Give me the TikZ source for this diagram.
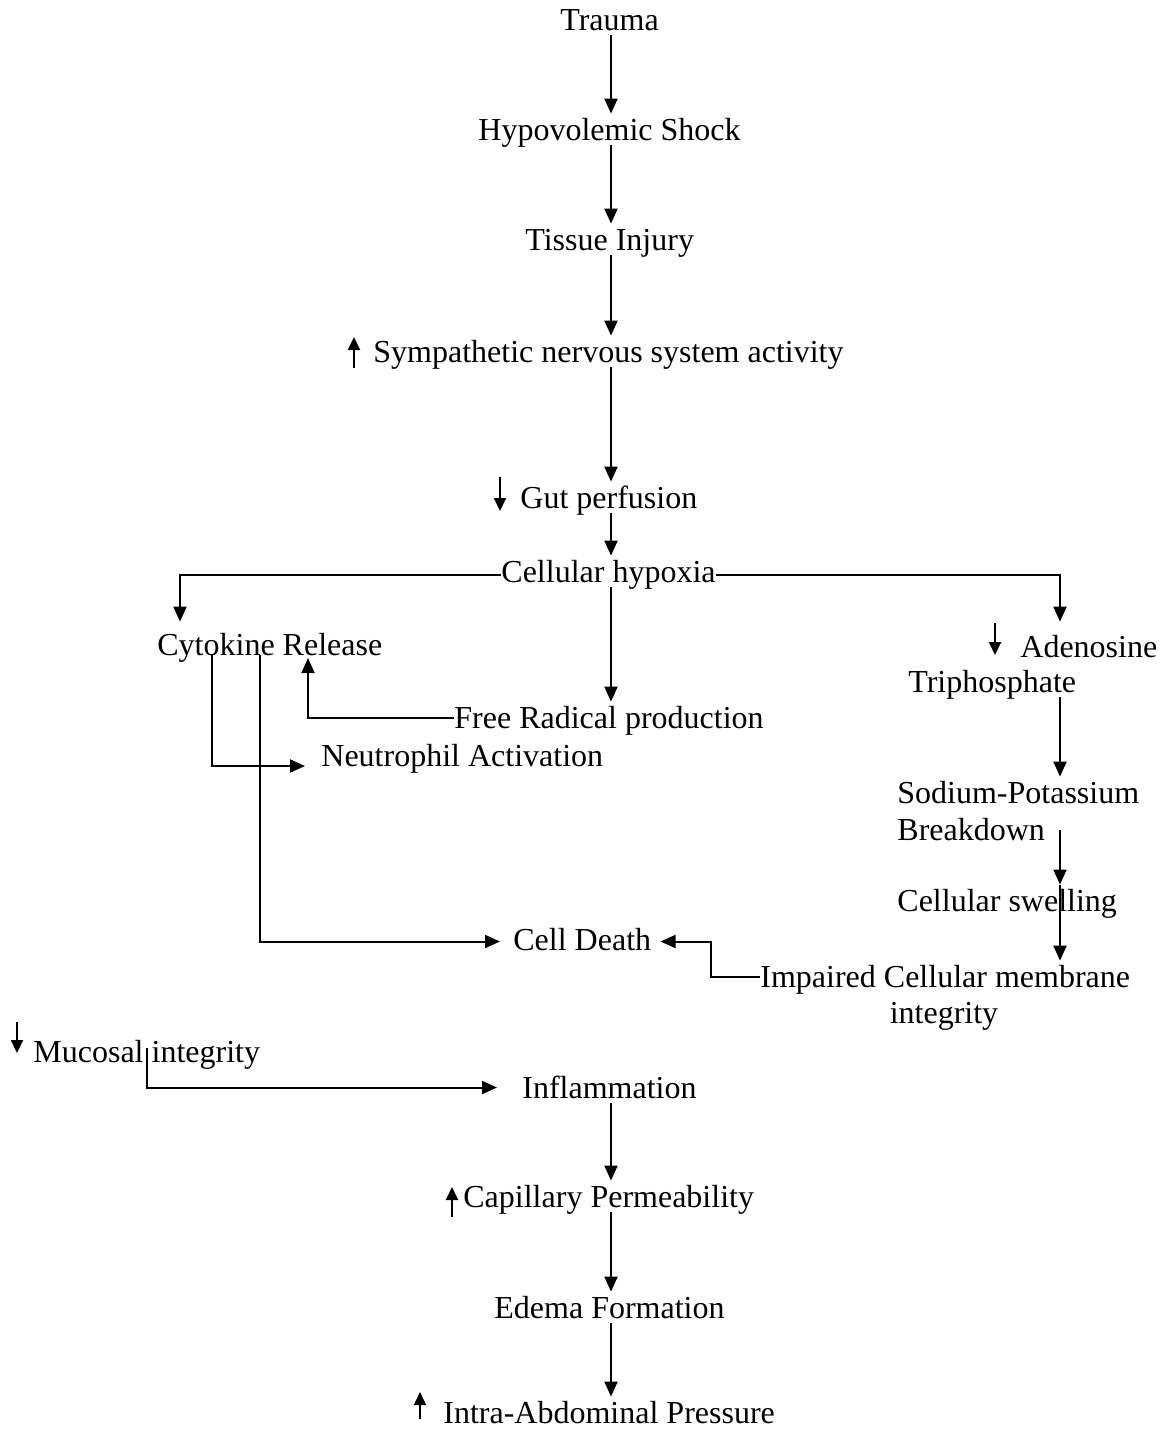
\documentclass[tikz,border=0pt]{standalone}
\usepackage{fontspec}
\setmainfont{Liberation Serif}
\usetikzlibrary{arrows.meta,calc}

\begin{document}
\begin{tikzpicture}[x=0.5pt,y=-0.5pt]
        \useasboundingbox (0,0) rectangle (1166,1435);
        \coordinate (spine) at (611,0);
        \coordinate (rspine) at (1060,0);
        \begin{scope}[every node/.style={inner sep=0pt,anchor=base west,text height=13pt,text depth=2.5pt,font=\fontsize{16pt}{19pt}\selectfont}]
            % main column
            \node (trauma) at (560,30) {Trauma};
            \node (shock) at (478,140) {Hypovolemic Shock};
            \node (injury) at (525,250) {Tissue Injury};
            \node (sns) at (373,362) {Sympathetic nervous system activity};
            \node (gut) at (520,508) {Gut perfusion};
            \node (hypoxia) at (501,582) {Cellular hypoxia};
            \node (radical) at (454,728) {Free Radical production};
            \node (cyto) at (157,655) {Cytokine Release};
            \node (neut) at (321,766) {Neutrophil Activation};
            \node (death) at (513,950) {Cell Death};
            \node (mucosal) at (33,1062) {Mucosal integrity};
            \node (inflam) at (522,1098) {Inflammation};
            \node (capillary) at (463,1207) {Capillary Permeability};
            \node (edema) at (494,1318) {Edema Formation};
            \node (iap) at (443,1423) {Intra-Abdominal Pressure};
            % right column
            \node (atp) at (1020,657) {Adenosine};
            \node (atp-2) at (908,692) {Triphosphate};
            \node (sodium) at (897,803) {Sodium-Potassium};
            \node (sodium-2) at (897,840) {Breakdown};
            \node (swelling) at (897,911) {Cellular swelling};
            \node (membrane) at (760,987) {Impaired Cellular membrane};
            \node (membrane-2) [anchor=base] at (944,1023) {integrity};
        \end{scope}
        \begin{scope}[every edge/.style={draw,line width=1pt,-{Triangle[length=7.5pt,width=6.5pt]}}]
            \path
                (trauma.south -| spine) edge (shock.north -| spine)
                (shock.south -| spine) edge (injury.north -| spine)
                (injury.south -| spine) edge (sns.north -| spine)
                (sns.south -| spine) edge (gut.north -| spine)
                (gut.south -| spine) edge (hypoxia.north -| spine)
                (hypoxia.south -| spine) edge (radical.north -| spine)
                (inflam.south -| spine) edge (capillary.north -| spine)
                (capillary.south -| spine) edge (edema.north -| spine)
                (edema.south -| spine) edge (iap.north -| spine)
                (atp-2.south -| rspine) edge (sodium.north -| rspine)
                (sodium-2.center -| rspine) edge (swelling.north -| rspine)
                (swelling.north -| rspine) edge (membrane.north -| rspine);
        \end{scope}
        \begin{scope}[line width=1pt,-{Triangle[length=7.5pt,width=6.5pt]}]
            \draw[shorten >=3.5pt] ([yshift=-1.5pt]hypoxia.west) -| ([xshift=11.5pt]cyto.north west);
            \draw[shorten >=4.5pt] ([yshift=-1.5pt]hypoxia.east) -| (atp.north -| rspine);
            \draw (radical.west) -| ([xshift=75.5pt,yshift=-1.5pt]cyto.base west);
            \draw[shorten >=8pt] ([xshift=27.5pt]cyto.base west) |- (neut.base west);
            \draw[shorten >=6.5pt] ([xshift=51.5pt]cyto.base west) |- ([yshift=-1pt]death.west);
            \draw[shorten >=4.5pt] (membrane.west) -- ++(-49,0) |- ([yshift=-1pt]death.east);
            \draw[shorten >=12.5pt] ([xshift=57pt,yshift=7pt]mucosal.base west) |- (inflam.west);
        \end{scope}
        % small up / down marks
        \begin{scope}[line width=1pt,-{Triangle[length=6.5pt,width=6pt]}]
            \draw ($(sns.base west)+(-19,6)$) -- ++(0,-31);
            \draw ($(gut.base west)+(-20,-31)$) -- ++(0,34);
            \draw ($(atp.base west)+(-25,-34)$) -- ++(0,32);
            \draw ($(mucosal.base west)+(-16,-40)$) -- ++(0,31);
            \draw ($(capillary.base west)+(-11,10)$) -- ++(0,-30);
            \draw[line width=0.8pt] ($(iap.base west)+(-23,-4)$) -- ++(0,-27);
        \end{scope}
    \end{tikzpicture}
\end{document}
